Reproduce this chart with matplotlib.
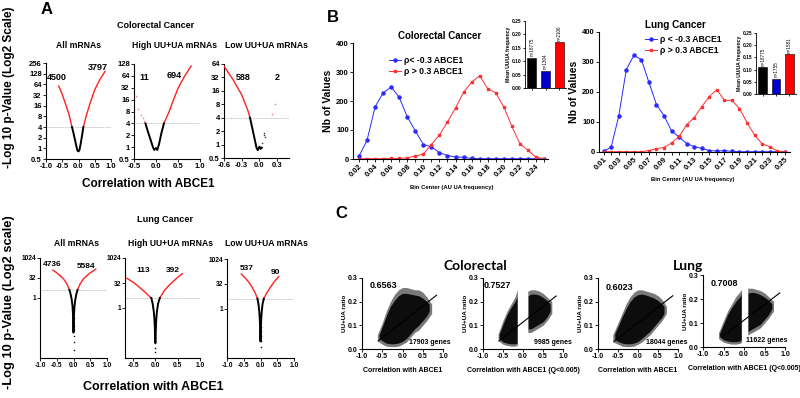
import matplotlib
matplotlib.use("Agg")
import matplotlib.pyplot as plt
import numpy as np

plt.rcParams['font.family'] = ['Liberation Sans', 'DejaVu Sans']
plt.rcParams['font.weight'] = 'bold'
plt.rcParams['axes.linewidth'] = 0.8

W, H = 800, 398
fig = plt.figure(figsize=(W / 100, H / 100), dpi=100)

def ax_px(x0, y0, x1, y1):
    return fig.add_axes([x0 / W, 1 - y1 / H, (x1 - x0) / W, (y1 - y0) / H])

def ftxt(x, y, s, **kw):
    fig.text(x / W, 1 - y / H, s, **kw)

def style(ax, fs=5.5, tl=2):
    for s in ['top', 'right']:
        ax.spines[s].set_visible(False)
    ax.tick_params(labelsize=fs, length=tl, width=0.6, pad=1)
    for lab in ax.get_xticklabels() + ax.get_yticklabels():
        lab.set_fontweight('bold')

# ---------------- Panel A data ----------------
THRESH = 4
# Colorectal – All mRNAs
cra_rl_x = [-0.61, -0.5, -0.4, -0.3, -0.2]
cra_rl_y = [58, 33, 18, 9.5, 4]
cra_bk_x = [-0.2, -0.15, -0.1, -0.06, -0.03, 0.0, 0.03, 0.07, 0.11, 0.15]
cra_bk_y = [4, 2.6, 1.6, 1.1, 0.85, 0.82, 0.9, 1.4, 2.3, 4]
cra_rr_x = [0.15, 0.25, 0.35, 0.5, 0.65, 0.82]
cra_rr_y = [4, 9, 18, 45, 85, 150]
# Colorectal – High UU+UA
crh_rl_x = [-0.45, -0.42, -0.35, -0.3, -0.27]
crh_rl_y = [20, 9, 6.5, 5.5, 4.5]
crh_bk_x = [-0.24, -0.18, -0.12, -0.07, -0.04, 0.0, 0.03, 0.07, 0.12, 0.18]
crh_bk_y = [4, 2.4, 1.5, 1.0, 0.85, 0.95, 0.85, 1.2, 2.2, 4]
crh_rr_x = [0.18, 0.3, 0.4, 0.5, 0.65, 0.8]
crh_rr_y = [4, 8, 16, 31, 63, 115]
# Colorectal – Low UU+UA
crl_rl_x = [-0.6, -0.45, -0.3, -0.2, -0.16]
crl_rl_y = [57, 29, 13, 6, 4]
crl_bk_x = [-0.16, -0.12, -0.08, -0.05, -0.03, 0.0, 0.02, 0.04]
crl_bk_y = [4, 2.3, 1.3, 0.85, 0.75, 0.9, 0.8, 0.85]
crl_bdot_x = [0.05, 0.07, 0.08, 0.1]
crl_bdot_y = [1.1, 1.6, 1.8, 1.5]
crl_rr_x = [0.21, 0.27]
crl_rr_y = [4.8, 8.2]

# Lung – All mRNAs
lga_rl_x = [-0.62, -0.5, -0.4, -0.3, -0.2, -0.12]
lga_rl_y = [128, 78, 48, 28, 12, 4]
lga_bk_x = [-0.12, -0.08, -0.05, -0.03, -0.015, -0.007, -0.003, 0.003, 0.007, 0.015, 0.03, 0.05, 0.08, 0.12]
lga_bk_y = [4, 1.7, 0.65, 0.24, 0.06, 0.013, 0.0025, 0.0025, 0.013, 0.06, 0.24, 0.65, 1.7, 4]
lga_dot_y = [0.03, 0.008, 0.004, 0.0014, 0.0005, 0.00012]
lga_rr_x = [0.12, 0.2, 0.3, 0.4, 0.5, 0.67]
lga_rr_y = [4, 12, 28, 48, 78, 150]
# Lung – High UU+UA
lgh_rl_x = [-0.65, -0.5, -0.38, -0.25, -0.15, -0.09]
lgh_rl_y = [64, 36, 20, 10, 5.5, 4]
lgh_bk_x = [-0.09, -0.06, -0.035, -0.02, -0.01, -0.004, 0.004, 0.01, 0.02, 0.035, 0.06, 0.1]
lgh_bk_y = [4, 1.8, 0.6, 0.2, 0.05, 0.008, 0.008, 0.05, 0.2, 0.6, 1.8, 4]
lgh_dot_y = [0.017, 0.008, 0.004, 0.0024]
lgh_rr_x = [0.1, 0.2, 0.3, 0.4, 0.5, 0.61]
lgh_rr_y = [4, 11, 22, 40, 70, 120]
# Lung – Low UU+UA
lgl_rl_x = [-0.58, -0.45, -0.35, -0.25, -0.15, -0.09]
lgl_rl_y = [128, 70, 40, 20, 8, 4]
lgl_bk_x = [-0.09, -0.06, -0.035, -0.02, -0.01, -0.004, 0.004, 0.01, 0.02, 0.035, 0.06, 0.1]
lgl_bk_y = [4, 1.8, 0.6, 0.2, 0.05, 0.01, 0.01, 0.05, 0.2, 0.6, 1.8, 4]
lgl_dot_y = [0.077, 0.04, 0.02, 0.01, 0.0045]
lgl_rr_x = [0.1, 0.2, 0.3, 0.4, 0.55]
lgl_rr_y = [4, 10, 20, 40, 91]

# ---------------- Panel B data ----------------
bins_cr = [round(0.02 + 0.01 * i, 2) for i in range(24)]
neg_cr = [10, 65, 180, 228, 248, 213, 145, 97, 50, 42, 22, 12, 7, 6, 2, 1, 1, 1, 1, 1, 1, 1, 1, 1]
pos_cr = [1, 1, 1, 1, 2, 2, 4, 10, 17, 50, 83, 128, 176, 230, 265, 287, 243, 228, 180, 113, 53, 30, 6, 1]
bins_lg = [round(0.01 + 0.01 * i, 2) for i in range(25)]
neg_lg = [2, 17, 120, 275, 322, 308, 232, 158, 121, 70, 50, 28, 18, 12, 5, 3, 5, 2, 1, 1, 1, 1, 1, 1, 1]
pos_lg = [1, 1, 1, 1, 1, 1, 5, 11, 15, 30, 52, 91, 115, 151, 185, 208, 172, 172, 145, 98, 57, 27, 18, 3, 1]
inset_cr_vals = [0.113, 0.065, 0.17]
inset_cr_n = ['n=18775', 'n=1304', 'n=2106']
inset_lg_vals = [0.11, 0.062, 0.164]
inset_lg_n = ['n=18775', 'n=1755', 'n=1581']
inset_colors = ['#000000', '#0000cc', '#ff0000']

# ---------------- Panel C data (cloud envelopes) ----------------
c1_out_x = [-0.62, -0.5, -0.4, -0.3, -0.2, -0.1, 0.0, 0.1, 0.2, 0.3, 0.4, 0.5, 0.6, 0.72]
c1_out_lo = [0.035, 0.02, 0.012, 0.01, 0.01, 0.012, 0.02, 0.03, 0.05, 0.07, 0.08, 0.1, 0.12, 0.15]
c1_out_hi = [0.06, 0.11, 0.16, 0.2, 0.23, 0.25, 0.26, 0.26, 0.255, 0.25, 0.25, 0.24, 0.22, 0.19]
c1_core_x = [-0.58, -0.5, -0.4, -0.3, -0.2, -0.1, 0.0, 0.1, 0.2, 0.3, 0.4, 0.5, 0.6, 0.66]
c1_core_lo = [0.045, 0.035, 0.025, 0.022, 0.022, 0.025, 0.032, 0.045, 0.065, 0.085, 0.1, 0.12, 0.14, 0.16]
c1_core_hi = [0.06, 0.095, 0.14, 0.18, 0.205, 0.225, 0.235, 0.235, 0.232, 0.228, 0.225, 0.215, 0.2, 0.19]
c1_line_x = [-0.6, 0.84]
c1_line_y = [0.034, 0.227]

c2_lout_x = [-0.62, -0.5, -0.4, -0.3, -0.2, -0.14]
c2_lout_lo = [0.035, 0.02, 0.015, 0.012, 0.012, 0.015]
c2_lout_hi = [0.065, 0.12, 0.16, 0.19, 0.22, 0.25]
c2_lcore_x = [-0.6, -0.5, -0.4, -0.3, -0.2, -0.15]
c2_lcore_lo = [0.045, 0.03, 0.025, 0.022, 0.022, 0.025]
c2_lcore_hi = [0.06, 0.105, 0.145, 0.175, 0.2, 0.22]
c2_rout_x = [0.12, 0.2, 0.3, 0.4, 0.5, 0.6, 0.72]
c2_rout_lo = [0.07, 0.07, 0.08, 0.09, 0.1, 0.12, 0.15]
c2_rout_hi = [0.245, 0.25, 0.25, 0.245, 0.235, 0.22, 0.2]
c2_rcore_x = [0.13, 0.2, 0.3, 0.4, 0.5, 0.6, 0.68]
c2_rcore_lo = [0.085, 0.085, 0.095, 0.105, 0.115, 0.135, 0.16]
c2_rcore_hi = [0.225, 0.232, 0.232, 0.228, 0.218, 0.205, 0.19]
c2_line_x = [-0.6, 0.83]
c2_line_y = [0.034, 0.224]

c3_out_x = [-0.63, -0.5, -0.4, -0.3, -0.2, -0.1, 0.0, 0.1, 0.2, 0.3, 0.4, 0.5, 0.6, 0.71]
c3_out_lo = [0.03, 0.02, 0.012, 0.01, 0.01, 0.012, 0.02, 0.03, 0.045, 0.06, 0.08, 0.1, 0.12, 0.15]
c3_out_hi = [0.06, 0.11, 0.15, 0.19, 0.22, 0.24, 0.25, 0.25, 0.245, 0.24, 0.235, 0.225, 0.21, 0.18]
c3_core_x = [-0.58, -0.5, -0.4, -0.3, -0.2, -0.1, 0.0, 0.1, 0.2, 0.3, 0.4, 0.5, 0.6, 0.65]
c3_core_lo = [0.04, 0.032, 0.025, 0.022, 0.022, 0.025, 0.032, 0.045, 0.06, 0.075, 0.095, 0.115, 0.135, 0.15]
c3_core_hi = [0.065, 0.095, 0.135, 0.17, 0.2, 0.22, 0.23, 0.232, 0.228, 0.222, 0.215, 0.205, 0.19, 0.18]
c3_line_x = [-0.6, 0.87]
c3_line_y = [0.032, 0.225]

c4_lout_x = [-0.62, -0.5, -0.4, -0.3, -0.2, -0.1, -0.06]
c4_lout_lo = [0.035, 0.02, 0.015, 0.012, 0.012, 0.015, 0.02]
c4_lout_hi = [0.06, 0.11, 0.15, 0.18, 0.21, 0.23, 0.24]
c4_lcore_x = [-0.6, -0.5, -0.4, -0.3, -0.2, -0.1, -0.07]
c4_lcore_lo = [0.045, 0.03, 0.025, 0.022, 0.022, 0.025, 0.03]
c4_lcore_hi = [0.055, 0.095, 0.135, 0.165, 0.19, 0.21, 0.22]
c4_rout_x = [0.09, 0.2, 0.3, 0.4, 0.5, 0.6, 0.72]
c4_rout_lo = [0.05, 0.06, 0.07, 0.08, 0.1, 0.12, 0.15]
c4_rout_hi = [0.245, 0.245, 0.24, 0.235, 0.225, 0.21, 0.19]
c4_rcore_x = [0.1, 0.2, 0.3, 0.4, 0.5, 0.6, 0.68]
c4_rcore_lo = [0.065, 0.075, 0.085, 0.095, 0.115, 0.135, 0.16]
c4_rcore_hi = [0.225, 0.228, 0.225, 0.218, 0.208, 0.195, 0.18]
c4_line_x = [-0.55, 0.87]
c4_line_y = [0.04, 0.225]

# ---------------- draw Panel A ----------------
RED = '#ff2020'

def volcano(ax, rlx, rly, bkx, bky, rrx, rry, ylim, yticks, xticks, xlim,
            rl_scatter=False, rr_scatter=False, dots_y=None, tfs=5.5, bdx=None, bdy=None):
    ax.set_yscale('log', base=2)
    ax.axhline(THRESH, color='#aaaaaa', ls=(0, (1, 1)), lw=0.6, zorder=1)
    if rl_scatter:
        ax.scatter(rlx, rly, s=1.5, color='#ff8080', lw=0, zorder=3)
    else:
        ax.plot(rlx, rly, color=RED, lw=1.0, zorder=3, solid_capstyle='round')
    if rr_scatter:
        ax.scatter(rrx, rry, s=1.5, color='#ff8080', lw=0, zorder=3)
    else:
        ax.plot(rrx, rry, color=RED, lw=1.0, zorder=3, solid_capstyle='round')
    ax.plot(bkx, bky, color='black', lw=1.4, zorder=4)
    if dots_y is not None:
        ax.scatter([0.0] * len(dots_y), dots_y, s=1.2, color='black', lw=0, zorder=4)
    if bdx is not None:
        ax.scatter(bdx, bdy, s=1.2, color='#333333', lw=0, zorder=4)
    ax.set_ylim(*ylim)
    ax.set_xlim(*xlim)
    ax.set_yticks(yticks)
    ax.set_yticklabels([('%g' % t) for t in yticks])
    ax.yaxis.set_minor_locator(matplotlib.ticker.NullLocator())
    ax.set_xticks(xticks)
    ax.set_xticklabels([('%.1f' % t) for t in xticks])
    style(ax, tfs)

yt_cr = [0.5, 1, 2, 4, 8, 16, 32, 64, 128, 256]
a1 = ax_px(46, 63, 111, 159)
volcano(a1, cra_rl_x, cra_rl_y, cra_bk_x, cra_bk_y, cra_rr_x, cra_rr_y,
        (0.5, 256), yt_cr, [-1, -0.5, 0, 0.5, 1], (-1, 1))
a2 = ax_px(134, 64, 200, 159)
volcano(a2, crh_rl_x, crh_rl_y, crh_bk_x, crh_bk_y, crh_rr_x, crh_rr_y,
        (0.5, 128), yt_cr[:-1], [-0.5, 0, 0.5, 1], (-0.5, 1), rl_scatter=True)
a3 = ax_px(224, 64, 289, 158)
volcano(a3, crl_rl_x, crl_rl_y, crl_bk_x, crl_bk_y, crl_rr_x, crl_rr_y,
        (0.5, 64), yt_cr[:-2], [-0.6, -0.3, 0, 0.3], (-0.6, 0.5), rr_scatter=True,
        bdx=crl_bdot_x, bdy=crl_bdot_y)

yt_lg = [1, 32, 1024]
l1 = ax_px(40, 258, 107, 358)
volcano(l1, lga_rl_x, lga_rl_y, lga_bk_x, lga_bk_y, lga_rr_x, lga_rr_y,
        (2 ** -15, 1024), yt_lg, [-1, -0.5, 0, 0.5, 1], (-1, 1), dots_y=lga_dot_y, tfs=4.8)
l2 = ax_px(125, 258, 200, 358)
volcano(l2, lgh_rl_x, lgh_rl_y, lgh_bk_x, lgh_bk_y, lgh_rr_x, lgh_rr_y,
        (2 ** -10, 1024), yt_lg, [-0.5, 0, 0.5, 1], (-0.68, 1), dots_y=lgh_dot_y, tfs=4.8)
l3 = ax_px(227, 259, 294, 358)
volcano(l3, lgl_rl_x, lgl_rl_y, lgl_bk_x, lgl_bk_y, lgl_rr_x, lgl_rr_y,
        (2 ** -10, 1024), yt_lg, [-1, -0.5, 0, 0.5, 1], (-1, 1), dots_y=lgl_dot_y, tfs=4.8)

ftxt(47, 10, 'A', fontsize=12, fontweight='bold', ha='center', va='center')
ftxt(156, 25, 'Colorectal Cancer', fontsize=6.5, ha='center', va='center')
ftxt(78, 46, 'All mRNAs', fontsize=6.2, ha='center', va='center')
ftxt(174, 46, 'High UU+UA mRNAs', fontsize=6.2, ha='center', va='center')
ftxt(266, 46, 'Low UU+UA mRNAs', fontsize=6.2, ha='center', va='center')
ftxt(9, 87, '-Log 10 p-Value (Log2 Scale)', fontsize=8.5, rotation=90, ha='center', va='center')
ftxt(148, 184, 'Correlation with ABCE1', fontsize=8.5, ha='center', va='center')
ftxt(57, 77, '4500', fontsize=6.5, ha='center', va='center')
ftxt(98, 68, '3797', fontsize=6.5, ha='center', va='center')
ftxt(144, 77, '11', fontsize=6.5, ha='center', va='center')
ftxt(174, 76, '694', fontsize=6.5, ha='center', va='center')
ftxt(243, 78, '588', fontsize=6.5, ha='center', va='center')
ftxt(277, 78, '2', fontsize=6.5, ha='center', va='center')

ftxt(165, 219, 'Lung Cancer', fontsize=6.6, ha='center', va='center')
ftxt(76, 243, 'All mRNAs', fontsize=6.2, ha='center', va='center')
ftxt(170, 243, 'High UU+UA mRNAs', fontsize=6.2, ha='center', va='center')
ftxt(266, 243, 'Low UU+UA mRNAs', fontsize=6.2, ha='center', va='center')
ftxt(9, 302, '-Log 10 p-Value (Log2 scale)', fontsize=9.3, rotation=90, ha='center', va='center')
ftxt(153, 387, 'Correlation with ABCE1', fontsize=9, ha='center', va='center')
ftxt(52, 264, '4736', fontsize=6, ha='center', va='center')
ftxt(86, 266, '5584', fontsize=6, ha='center', va='center')
ftxt(143, 270, '113', fontsize=6, ha='center', va='center')
ftxt(173, 270, '392', fontsize=6, ha='center', va='center')
ftxt(247, 268, '537', fontsize=6, ha='center', va='center')
ftxt(275, 272, '90', fontsize=6, ha='center', va='center')

# ---------------- draw Panel B ----------------
BLUE = '#2a2aff'
REDL = '#ff3030'

def histline(ax, bins, neg, pos, lab_every_start, xlim, leg_anchor, neg_label):
    ax.plot(bins, neg, color=BLUE, lw=0.7, marker='o', ms=2.2, label=neg_label)
    ax.plot(bins, pos, color=REDL, lw=0.7, marker='s', ms=2.0, label='\u03c1 > 0.3 ABCE1')
    ax.set_xlim(*xlim)
    ax.set_ylim(0, 400)
    ax.set_yticks([0, 100, 200, 300, 400])
    ax.set_xticks(bins)
    labs = [('%.2f' % b) if (i % 2 == lab_every_start) else '' for i, b in enumerate(bins)]
    ax.set_xticklabels(labs, rotation=45, ha='right', rotation_mode='anchor')
    style(ax, 5.5)
    ax.set_ylabel('Nb of Values', fontsize=7.5, fontweight='bold', labelpad=2)
    leg = ax.legend(loc='upper left', bbox_to_anchor=(leg_anchor[0] / W, 1 - leg_anchor[1] / H),
                    bbox_transform=fig.transFigure, frameon=False, fontsize=6.2,
                    handlelength=1.4, handletextpad=0.3, labelspacing=0.2, borderpad=0,
                    borderaxespad=0)
    for t in leg.get_texts():
        t.set_fontweight('bold')

b1 = ax_px(353, 43, 548, 159)
histline(b1, bins_cr, neg_cr, pos_cr, 0, (0.0125, 0.255), (389, 56), '\u03c1< -0.3 ABCE1')
b2 = ax_px(599, 32, 790, 152)
histline(b2, bins_lg, neg_lg, pos_lg, 0, (0.0038, 0.257), (645, 35), '\u03c1 < -0.3 ABCE1')

ftxt(333, 18, 'B', fontsize=12, ha='center', va='center')
ftxt(440, 36, 'Colorectal Cancer', fontsize=7, ha='center', va='center')
ftxt(675, 25, 'Lung Cancer', fontsize=7.2, ha='center', va='center')
ftxt(452, 187, 'Bin Center (AU UA frequency)', fontsize=4.2, ha='center', va='center')
ftxt(693, 180, 'Bin Center (AU UA frequency)', fontsize=4.2, ha='center', va='center')

def inset(ax, vals, ns):
    xs = [0, 1, 2]
    ax.bar(xs, vals, width=0.65, color=inset_colors, edgecolor='black', lw=0.4)
    for x, v, n in zip(xs, vals, ns):
        ax.text(x, v + 0.006, n, rotation=90, ha='center', va='bottom', fontsize=3.3,
                fontweight='normal')
    ax.set_ylim(0, 0.25)
    ax.set_xlim(-0.5, 2.5)
    ax.set_yticks([0, 0.05, 0.1, 0.15, 0.2, 0.25])
    ax.set_yticklabels(['0.00', '0.05', '0.10', '0.15', '0.20', '0.25'])
    ax.set_xticks(xs)
    ax.set_xticklabels(['', '', ''])
    style(ax, 3.5, tl=1.5)
    for s in ['left', 'bottom']:
        ax.spines[s].set_linewidth(0.6)
    ax.set_ylabel('Mean UU/UA frequency', fontsize=3.6, fontweight='bold', labelpad=1)

i1 = ax_px(525, 21, 566, 88)
inset(i1, inset_cr_vals, inset_cr_n)
i2 = ax_px(756, 33, 796, 94)
inset(i2, inset_lg_vals, inset_lg_n)

# ---------------- draw Panel C ----------------
GRAY = '#7a7a7a'
CORE = '#0d0d0d'

def scat_axes(ax, xlabel, rval, ngenes, rpos, npos):
    ax.set_xlim(-1, 1)
    ax.set_ylim(0, 0.3)
    ax.set_xticks([-1, -0.5, 0, 0.5, 1])
    ax.set_xticklabels(['-1.0', '-0.5', '0.0', '0.5', '1.0'])
    ax.set_yticks([0, 0.1, 0.2, 0.3])
    ax.set_yticklabels(['0.0', '0.1', '0.2', '0.3'])
    style(ax, 5)
    ax.set_xlabel(xlabel, fontsize=5, fontweight='bold', labelpad=5)
    ax.set_ylabel('UU+UA ratio', fontsize=4.6, fontweight='bold', labelpad=1)
    ftxt(rpos[0], rpos[1], rval, fontsize=6.5, ha='center', va='center')
    ftxt(npos[0], npos[1], ngenes, fontsize=5, ha='center', va='center')

c1 = ax_px(362, 278, 443, 349)
c1.fill_between(c1_out_x, c1_out_lo, c1_out_hi, color=GRAY, lw=0)
c1.fill_between(c1_core_x, c1_core_lo, c1_core_hi, color=CORE, lw=0)
c1.plot(c1_line_x, c1_line_y, color='black', lw=0.8)
scat_axes(c1, 'Correlation with ABCE1', '0.6563', '17903 genes', (383, 285), (430, 342))

c2 = ax_px(483, 278, 563, 349)
c2.fill_between(c2_lout_x, c2_lout_lo, c2_lout_hi, color=GRAY, lw=0)
c2.fill_between(c2_lcore_x, c2_lcore_lo, c2_lcore_hi, color=CORE, lw=0)
c2.fill_between(c2_rout_x, c2_rout_lo, c2_rout_hi, color=GRAY, lw=0)
c2.fill_between(c2_rcore_x, c2_rcore_lo, c2_rcore_hi, color=CORE, lw=0)
c2.plot(c2_line_x, c2_line_y, color='black', lw=0.8)
scat_axes(c2, 'Correlation with ABCE1 (Q<0.005)', '0.7527', '9985 genes', (497, 285), (553, 342))

c3 = ax_px(598, 278, 678, 349)
c3.fill_between(c3_out_x, c3_out_lo, c3_out_hi, color=GRAY, lw=0)
c3.fill_between(c3_core_x, c3_core_lo, c3_core_hi, color=CORE, lw=0)
c3.plot(c3_line_x, c3_line_y, color='black', lw=0.8)
scat_axes(c3, 'Correlation with ABCE1', '0.6023', '18044 genes', (619, 287), (667, 343))

c4 = ax_px(703, 275, 785, 347)
c4.fill_between(c4_lout_x, c4_lout_lo, c4_lout_hi, color=GRAY, lw=0)
c4.fill_between(c4_lcore_x, c4_lcore_lo, c4_lcore_hi, color=CORE, lw=0)
c4.fill_between(c4_rout_x, c4_rout_lo, c4_rout_hi, color=GRAY, lw=0)
c4.fill_between(c4_rcore_x, c4_rcore_lo, c4_rcore_hi, color=CORE, lw=0)
c4.plot(c4_line_x, c4_line_y, color='black', lw=0.8)
scat_axes(c4, 'Correlation with ABCE1 (Q<0.005)', '0.7008', '11622 genes', (724, 283), (767, 340))

ftxt(341, 213, 'C', fontsize=12, ha='center', va='center')
ftxt(475, 266, 'Colorectal', fontsize=10, ha='center', va='center',
     family=['Lato', 'DejaVu Sans'], fontweight='bold')
ftxt(688, 266, 'Lung', fontsize=10, ha='center', va='center',
     family=['Lato', 'DejaVu Sans'], fontweight='bold')

fig.savefig('out.png', dpi=100)
